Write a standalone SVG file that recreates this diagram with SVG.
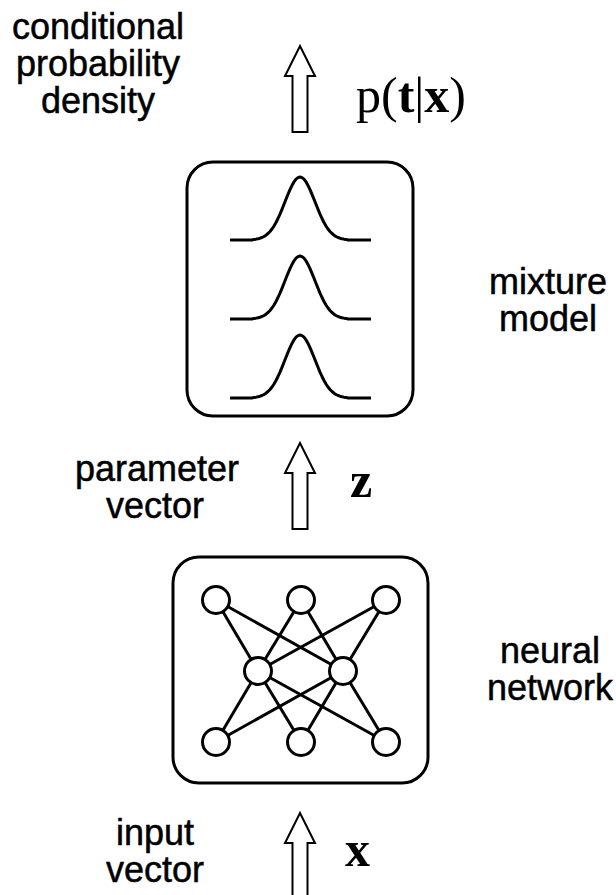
<svg xmlns="http://www.w3.org/2000/svg" width="616" height="895" viewBox="0 0 616 895">
<style>
.lbl{font-family:"Liberation Sans",Arial,sans-serif;font-size:36px;fill:#000;stroke:#000;stroke-width:0.5;text-anchor:middle}
.math{font-family:"Liberation Serif","Times New Roman",serif;font-size:50px;fill:#000}
.b{font-weight:bold}
.box{fill:none;stroke:#000;stroke-width:3}
.ln{fill:none;stroke:#000;stroke-width:3;stroke-linejoin:round}
.nd{fill:#fff;stroke:#000;stroke-width:3}
.arr{fill:#fff;stroke:#000;stroke-width:2;stroke-linejoin:miter}
</style>
<defs>
<path id="gauss" class="ln" d="M230,0 H252 L254,-0.57 L256,-0.85 L258,-1.25 L260,-1.8 L262,-2.5 L264,-3.5 L266,-4.8 L268,-6.5 L270,-8.5 L272,-11 L274,-14 L276,-17.5 L278,-21.5 L280,-25.9 L282,-30.7 L284,-35.7 L286,-40.7 L288,-45.7 L290,-50.4 L292,-54.6 L294,-58.2 L296,-60.8 L298,-62.4 L300,-63 L302,-62.4 L304,-60.8 L306,-58.2 L308,-54.6 L310,-50.4 L312,-45.7 L314,-40.7 L316,-35.7 L318,-30.7 L320,-25.9 L322,-21.5 L324,-17.5 L326,-14 L328,-11 L330,-8.5 L332,-6.5 L334,-4.8 L336,-3.5 L338,-2.5 L340,-1.8 L342,-1.25 L344,-0.85 L346,-0.57 L348,0 H371"/>
<path id="uparrow" d="M0,0 L15,30 L7.5,30 L7.5,86 L-7.5,86 L-7.5,30 L-15,30 Z"/>
</defs>

<g id="connectors">
<use href="#uparrow" class="arr" x="300" y="46"/>
<use href="#uparrow" class="arr" x="300" y="443"/>
<use href="#uparrow" class="arr" x="300" y="813"/>
</g>

<g id="label-conditional">
<text class="lbl" x="98" y="39">conditional</text>
<text class="lbl" x="98" y="76">probability</text>
<text class="lbl" x="98" y="113">density</text>
</g>
<g id="label-ptx">
<text class="math" x="356" y="112">p(<tspan class="b">t</tspan>|<tspan class="b">x</tspan>)</text>
</g>

<g id="mixture-model">
<rect class="box" x="187" y="162" width="226" height="254" rx="26"/>
<use href="#gauss" y="240"/>
<use href="#gauss" y="319"/>
<use href="#gauss" y="398"/>
</g>
<g id="label-mixture">
<text class="lbl" x="548" y="294">mixture</text>
<text class="lbl" x="548" y="331">model</text>
</g>

<g id="label-parameter">
<text class="lbl" x="157" y="481">parameter</text>
<text class="lbl" x="155" y="518">vector</text>
</g>
<g id="label-z">
<text class="math b" x="350" y="497" font-size="46">z</text>
</g>

<g id="neural-network">
<rect class="box" x="173" y="557" width="255" height="226" rx="26"/>
<g class="ln" stroke-width="2.5">
<line x1="216" y1="600" x2="258" y2="671"/>
<line x1="216" y1="600" x2="343" y2="671"/>
<line x1="301" y1="600" x2="258" y2="671"/>
<line x1="301" y1="600" x2="343" y2="671"/>
<line x1="386" y1="600" x2="258" y2="671"/>
<line x1="386" y1="600" x2="343" y2="671"/>
<line x1="216" y1="742" x2="258" y2="671"/>
<line x1="216" y1="742" x2="343" y2="671"/>
<line x1="301" y1="742" x2="258" y2="671"/>
<line x1="301" y1="742" x2="343" y2="671"/>
<line x1="386" y1="742" x2="258" y2="671"/>
<line x1="386" y1="742" x2="343" y2="671"/>
</g>
<circle class="nd" cx="216" cy="600" r="13.5"/>
<circle class="nd" cx="301" cy="600" r="13.5"/>
<circle class="nd" cx="386" cy="600" r="13.5"/>
<circle class="nd" cx="258" cy="671" r="13.5"/>
<circle class="nd" cx="343" cy="671" r="13.5"/>
<circle class="nd" cx="216" cy="742" r="13.5"/>
<circle class="nd" cx="301" cy="742" r="13.5"/>
<circle class="nd" cx="386" cy="742" r="13.5"/>
</g>
<g id="label-neural">
<text class="lbl" x="550" y="663">neural</text>
<text class="lbl" x="550" y="700">network</text>
</g>

<g id="label-input">
<text class="lbl" x="155" y="845">input</text>
<text class="lbl" x="155" y="882">vector</text>
</g>
<g id="label-x">
<text class="math b" x="345" y="866" font-size="46">x</text>
</g>
</svg>
